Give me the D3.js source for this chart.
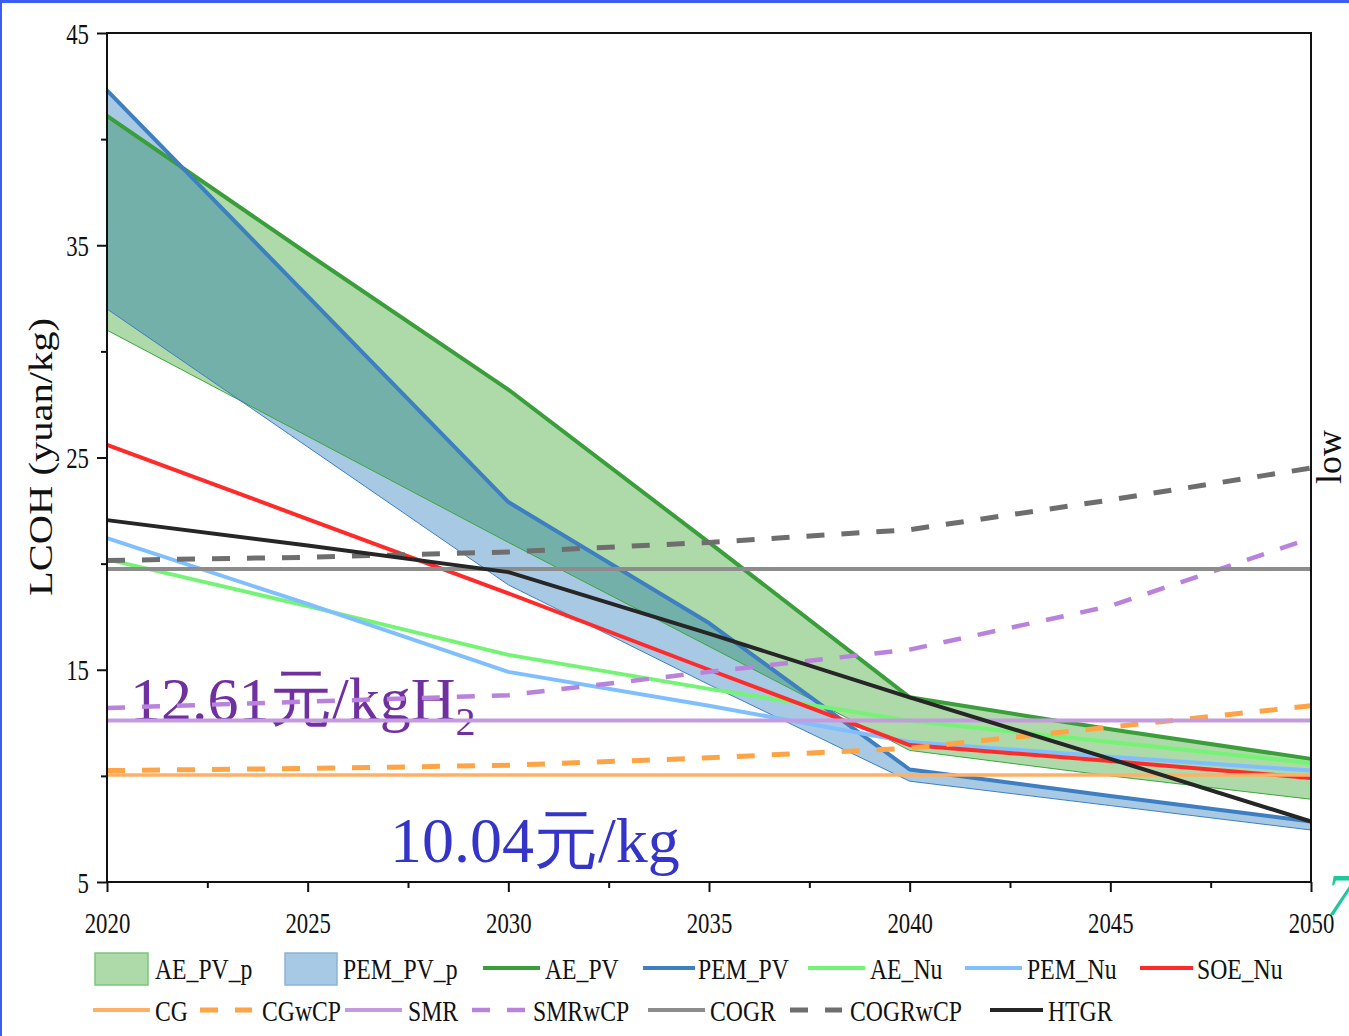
<!DOCTYPE html>
<html><head><meta charset="utf-8">
<script src="https://cdn.jsdelivr.net/npm/d3@7"></script>
<style>
html,body{margin:0;padding:0;background:#fff;}
svg{display:block;}
</style></head>
<body>
<svg id="chart" width="1349" height="1036"></svg>
<script>
// ---------- DATA ----------
const years = [2020, 2025, 2030, 2035, 2040, 2045, 2050];
const AE_PV      = [41.1, 34.6, 28.2, 21.0, 13.7, 12.2, 10.8];
const AE_PV_low  = [31.0, 26.0, 21.0, 16.1, 11.2, 10.0, 8.9];
const PEM_PV     = [42.3, 32.6, 22.9, 17.2, 10.3, 9.05, 7.85];
const PEM_PV_low = [32.0, 25.5, 19.0, 14.3, 9.75, 8.6, 7.45];
const AE_Nu      = [20.2, 18.0, 15.7, 14.1, 12.6, 11.6, 10.6];
const PEM_Nu     = [21.2, 18.1, 14.9, 13.3, 11.6, 10.9, 10.25];
const SOE_Nu     = [25.6, 22.1, 18.6, 15.0, 11.45, 10.7, 9.9];
const HTGR       = [22.05, 20.85, 19.6, 16.7, 13.7, 10.8, 7.85];
const CG         = [10.04, 10.04, 10.04, 10.04, 10.04, 10.04, 10.04];
const CGwCP      = [10.25, 10.35, 10.5, 10.85, 11.3, 12.3, 13.3];
const SMR        = [12.61, 12.61, 12.61, 12.61, 12.61, 12.61, 12.61];
const SMRwCP     = [13.2, 13.5, 13.8, 14.9, 15.95, 18.0, 21.2];
const COGR       = [19.75, 19.75, 19.75, 19.75, 19.75, 19.75, 19.75];
const COGRwCP    = [20.15, 20.3, 20.55, 21.0, 21.6, 23.0, 24.5];

const yMajorTicks = [5, 15, 25, 35, 45];
const yMinorTicks = [10, 20, 30, 40];
const xMajorTicks = [2020, 2025, 2030, 2035, 2040, 2045, 2050];
const xMinorTicks = [2022.5, 2027.5, 2032.5, 2037.5, 2042.5, 2047.5];

const yTitle = "LCOH (yuan/kg)";
const sideLabel = "low";
const noteSMR = "12.61元/kgH";
const noteCG = "10.04元/kg";
const cornerMark = "7";

// ---------- STYLES ----------
const FONT = "'Liberation Serif','Times New Roman',serif";
const lineSeries = [
  {name: "AE_PV",   vals: AE_PV,   color: "#3a9e3a", w: 4,   dash: null},
  {name: "PEM_PV",  vals: PEM_PV,  color: "#3d7fc1", w: 4,   dash: null},
  {name: "AE_Nu",   vals: AE_Nu,   color: "#74f474", w: 4,   dash: null},
  {name: "PEM_Nu",  vals: PEM_Nu,  color: "#80bfff", w: 4,   dash: null},
  {name: "SOE_Nu",  vals: SOE_Nu,  color: "#ff2a2a", w: 4,   dash: null},
  {name: "CG",      vals: CG,      color: "#ffb066", w: 3.5, dash: null},
  {name: "CGwCP",   vals: CGwCP,   color: "#ffa445", w: 5,   dash: "18,17"},
  {name: "SMR",     vals: SMR,     color: "#c59be0", w: 4,   dash: null},
  {name: "SMRwCP",  vals: SMRwCP,  color: "#b982dc", w: 4.5, dash: "18,17"},
  {name: "COGR",    vals: COGR,    color: "#8c8c8c", w: 4,   dash: null},
  {name: "COGRwCP", vals: COGRwCP, color: "#6e6e6e", w: 5,   dash: "18,17"},
  {name: "HTGR",    vals: HTGR,    color: "#262626", w: 4,   dash: null}
];
const styleOf = Object.fromEntries(lineSeries.map(s => [s.name, s]));

// ---------- SCALES ----------
const svg = d3.select("#chart");
const x = d3.scaleLinear().domain([2020, 2050]).range([107, 1311]);
const y = d3.scaleLinear().domain([5, 45]).range([882, 33]);

// screenshot border
svg.append("rect").attr("x", 0).attr("y", 0).attr("width", 1349).attr("height", 3).attr("fill", "#3d5cf2");
svg.append("rect").attr("x", 0).attr("y", 0).attr("width", 2).attr("height", 1036).attr("fill", "#3d5cf2");

// ---------- BANDS ----------
const area = (hi, lo) => d3.area().x((d, i) => x(years[i])).y0((d, i) => y(lo[i])).y1((d, i) => y(hi[i]))(years);
const line = vals => d3.line().x((d, i) => x(years[i])).y((d, i) => y(vals[i]))(years);

svg.append("path").attr("d", area(AE_PV, AE_PV_low)).attr("fill", "#aed9a8");
svg.append("path").attr("d", area(PEM_PV, PEM_PV_low)).attr("fill", "rgb(0,97,173)").attr("fill-opacity", 0.34);
svg.append("path").attr("d", line(AE_PV_low)).attr("fill", "none").attr("stroke", "#3fa53f").attr("stroke-width", 1);
svg.append("path").attr("d", line(PEM_PV_low)).attr("fill", "none").attr("stroke", "#3d7fc1").attr("stroke-width", 1);

// ---------- ANNOTATIONS ----------
const n1 = svg.append("text").attr("x", 130).attr("y", 720).attr("font-family", FONT)
  .attr("font-size", 62).attr("fill", "#7030a0").text(noteSMR);
n1.append("tspan").attr("dy", 15).attr("font-size", 40).text("2");
svg.append("text").attr("x", 390).attr("y", 862).attr("font-family", FONT)
  .attr("font-size", 64).attr("fill", "#3434c8").text(noteCG);

// ---------- LINES ----------
lineSeries.forEach(s => {
  svg.append("path").attr("d", line(s.vals)).attr("fill", "none")
    .attr("stroke", s.color).attr("stroke-width", s.w)
    .attr("stroke-dasharray", s.dash).attr("stroke-linejoin", "round");
});

// ---------- FRAME & AXES ----------
svg.append("rect").attr("x", 107).attr("y", 33).attr("width", 1311 - 107).attr("height", 882 - 33)
  .attr("fill", "none").attr("stroke", "#111").attr("stroke-width", 2);

const yAx = svg.append("g").attr("transform", "translate(107,0)")
  .call(d3.axisLeft(y).tickValues(yMajorTicks).tickSize(10).tickFormat(d3.format("d")));
const yAxMinor = svg.append("g").attr("transform", "translate(107,0)")
  .call(d3.axisLeft(y).tickValues(yMinorTicks).tickSize(6).tickFormat(""));
const xAx = svg.append("g").attr("transform", "translate(0,882)")
  .call(d3.axisBottom(x).tickValues(xMajorTicks).tickSize(10).tickFormat(d3.format("d")));
const xAxMinor = svg.append("g").attr("transform", "translate(0,882)")
  .call(d3.axisBottom(x).tickValues(xMinorTicks).tickSize(6).tickFormat(""));

[yAx, yAxMinor, xAx, xAxMinor].forEach(g => {
  g.select(".domain").remove();
  g.selectAll(".tick line").attr("stroke", "#111").attr("stroke-width", 2);
});
yAx.selectAll(".tick text").attr("x", null).attr("dy", null)
  .attr("transform", "translate(-18,10) scale(0.76,1)")
  .attr("font-family", FONT).attr("font-size", 30).attr("fill", "#111").attr("text-anchor", "end");
xAx.selectAll(".tick text").attr("y", null).attr("dy", null)
  .attr("transform", "translate(0,51) scale(0.76,1)")
  .attr("font-family", FONT).attr("font-size", 30).attr("fill", "#111").attr("text-anchor", "middle");

// axis title
svg.append("text").attr("transform", "translate(52,457) rotate(-90)")
  .attr("text-anchor", "middle").attr("font-family", FONT).attr("font-size", 34)
  .attr("textLength", 278).attr("lengthAdjust", "spacingAndGlyphs")
  .attr("fill", "#111").text(yTitle);

// side label
svg.append("text").attr("transform", "translate(1341,457) rotate(-90)")
  .attr("text-anchor", "middle").attr("font-family", FONT).attr("font-size", 36)
  .attr("fill", "#111").text(sideLabel);

// corner mark
svg.append("text").attr("x", 1326).attr("y", 915).attr("font-family", FONT)
  .attr("font-style", "italic").attr("font-size", 60).attr("fill", "#1dc99b").text(cornerMark);

// ---------- LEGEND ----------
const legendRows = [
  {y: 968, items: [
    {name: "AE_PV_p", box: ["#aed9a8", "#7cc47c"], x0: 95, x1: 148, tx: 155},
    {name: "PEM_PV_p", box: ["#a7c9e3", "#8ab3d6"], x0: 285, x1: 337, tx: 343},
    {name: "AE_PV", x0: 483, x1: 540, tx: 545},
    {name: "PEM_PV", x0: 643, x1: 695, tx: 698},
    {name: "AE_Nu", x0: 808, x1: 865, tx: 870},
    {name: "PEM_Nu", x0: 965, x1: 1022, tx: 1027},
    {name: "SOE_Nu", x0: 1140, x1: 1193, tx: 1197}
  ]},
  {y: 1010, items: [
    {name: "CG", x0: 93, x1: 150, tx: 155},
    {name: "CGwCP", x0: 200, x1: 252, tx: 262},
    {name: "SMR", x0: 345, x1: 402, tx: 408},
    {name: "SMRwCP", x0: 472, x1: 525, tx: 533},
    {name: "COGR", x0: 648, x1: 705, tx: 710},
    {name: "COGRwCP", x0: 790, x1: 842, tx: 850},
    {name: "HTGR", x0: 990, x1: 1043, tx: 1048}
  ]}
];
legendRows.forEach(row => {
  row.items.forEach(it => {
    if (it.box) {
      svg.append("rect").attr("x", it.x0).attr("y", row.y - 15).attr("width", it.x1 - it.x0).attr("height", 32)
        .attr("fill", it.box[0]).attr("stroke", it.box[1]).attr("stroke-width", 1.5);
    } else {
      const s = styleOf[it.name];
      svg.append("line").attr("x1", it.x0).attr("x2", it.x1).attr("y1", row.y).attr("y2", row.y)
        .attr("stroke", s.color).attr("stroke-width", Math.max(4, s.w)).attr("stroke-dasharray", s.dash);
    }
    svg.append("text").attr("transform", `translate(${it.tx},${row.y + 11}) scale(0.79,1)`)
      .attr("font-family", FONT).attr("font-size", 30).attr("fill", "#111").text(it.name);
  });
});
</script>
</body></html>
